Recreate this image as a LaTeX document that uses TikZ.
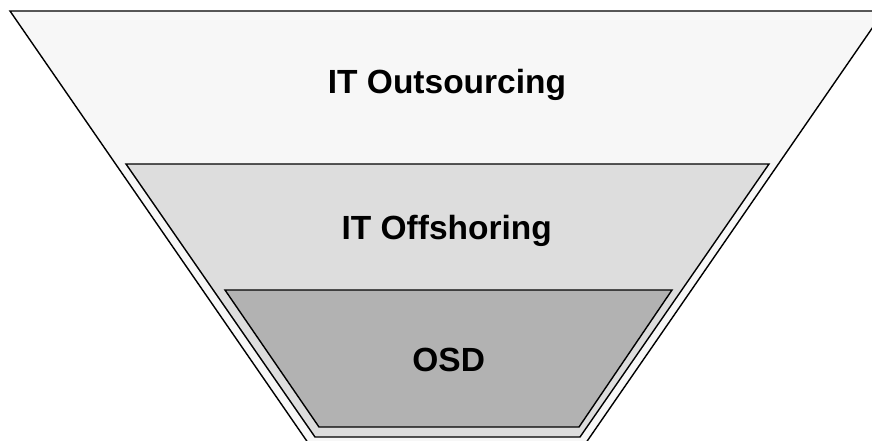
\documentclass[tikz,border=0pt]{standalone}
\usepackage{fontspec}
\setmainfont{Liberation Sans}
\definecolor{layerA}{HTML}{F7F7F7}
\definecolor{layerB}{HTML}{DDDDDD}
\definecolor{layerC}{HTML}{B2B2B2}
\tikzset{
  layer/.style={draw=black, line width=1.4pt, line join=miter},
  lbl/.style={font=\fontsize{33.5pt}{40pt}\selectfont\bfseries, anchor=base, inner sep=0pt}
}
\begin{document}
\begin{tikzpicture}[x=1pt,y=-1pt]
\useasboundingbox (0,0) rectangle (872,441);
\clip (0,0) rectangle (872,441);
\fill[white] (0,0) rectangle (872,441);
\draw[layer, fill=layerA] (10,11) -- (884,11) -- (581,450) -- (313,450) -- cycle;
\draw[layer, fill=layerB] (126,164) -- (769,164) -- (580,437) -- (315,437) -- cycle;
\draw[layer, fill=layerC] (225,290) -- (672,290) -- (579,427) -- (319,427) -- cycle;
\node[lbl] (outs) at (447,93.3) {IT Outsourcing};
\node[lbl] (offs) at (446.7,239.5) {IT Offshoring};
\node[lbl] (osd) at (448.7,371.5) {OSD};
\end{tikzpicture}
\end{document}
